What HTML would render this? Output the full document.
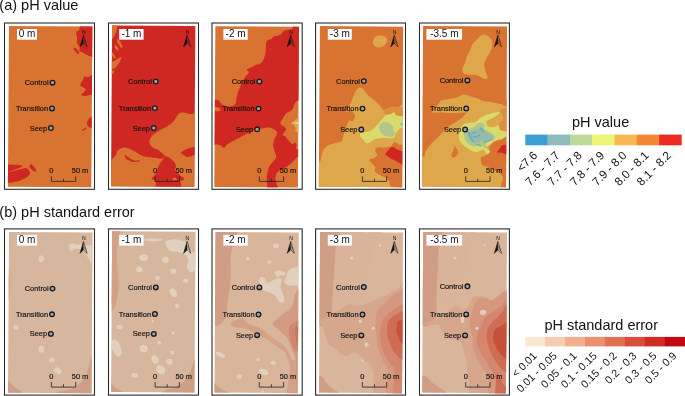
<!DOCTYPE html>
<html lang="en"><head><meta charset="utf-8"><title>pH value and pH standard error</title>
<style>
html,body{margin:0;padding:0;background:#fff;}
body{width:685px;height:396px;overflow:hidden;}
svg{display:block;}
text{font-family:"Liberation Sans",sans-serif;fill:#111;}
.t{font-size:14.5px;}
.d{font-size:10px;}
.l{font-size:7.4px;stroke:#111;stroke-width:0.15px;}
.n{font-size:5.1px;}
.g{font-size:10.6px;}
</style></head><body>
<svg width="685" height="396" viewBox="0 0 685 396">
<defs>
<g id="pt"><circle r="2.3" fill="#9ea4ae" stroke="#1a1a1a" stroke-width="1.35"/></g>
<g id="north"><path d="M0,0 L3.7,11.9 L0,8.4 L-3.5,11.9 Z" fill="none" stroke="#111" stroke-width="0.55" stroke-linejoin="miter"/><path d="M0,0 L-3.5,11.9 L0,8.4 Z" fill="#111"/><path d="M1.2,5.5 L2.2,9 M0.6,4 L0.9,8.2" stroke="#111" stroke-width="0.3" fill="none"/></g>
<clipPath id="c00"><path d="M7.90,186.70L91.30,187.25L92.36,26.56L8.97,26.00Z"/></clipPath>
<clipPath id="c01"><path d="M111.00,186.20L194.30,186.75L195.36,26.06L112.07,25.50Z"/></clipPath>
<clipPath id="c02"><path d="M214.30,187.00L297.90,187.55L298.96,26.86L215.37,26.30Z"/></clipPath>
<clipPath id="c03"><path d="M318.80,186.80L402.10,187.35L403.16,26.66L319.87,26.10Z"/></clipPath>
<clipPath id="c04"><path d="M422.00,186.60L506.00,187.16L507.06,26.46L423.07,25.90Z"/></clipPath>
<clipPath id="c10"><path d="M8.00,392.70L91.50,393.25L92.56,232.56L9.07,232.00Z"/></clipPath>
<clipPath id="c11"><path d="M111.10,392.00L194.45,392.55L195.51,231.86L112.17,231.30Z"/></clipPath>
<clipPath id="c12"><path d="M214.45,392.60L297.70,393.15L298.76,232.46L215.52,231.90Z"/></clipPath>
<clipPath id="c13"><path d="M319.05,392.60L401.95,393.15L403.01,232.45L320.12,231.90Z"/></clipPath>
<clipPath id="c14"><path d="M422.15,392.60L505.90,393.16L506.96,232.46L423.22,231.90Z"/></clipPath>
</defs>
<rect width="685" height="396" fill="#fff"/>
<text x="-0.7" y="10.2" class="t">(a) pH value</text>
<text x="-0.7" y="217.0" class="t">(b) pH standard error</text>
<g clip-path="url(#c00)">
<rect x="5.9" y="23.0" width="89.4" height="166.7" fill="#D87331"/>
<path d="M80.1,24.5C80.0,25.5 80.1,26.6 79.8,27.7C79.5,28.7 79.0,30.2 78.4,30.8C77.9,31.5 76.9,30.8 76.5,31.5C76.2,32.1 76.2,33.7 76.3,34.6C76.4,35.6 77.1,36.1 77.1,37.2C77.2,38.2 76.7,39.8 76.8,40.9C76.8,42.1 77.0,43.0 77.5,44.1C78.0,45.1 79.4,46.2 79.7,47.3C80.0,48.3 78.9,49.6 79.3,50.4C79.7,51.3 81.0,51.6 82.2,52.3C83.4,53.0 85.0,54.1 86.6,54.8C88.2,55.6 89.8,56.4 91.7,56.7C93.6,57.0 96.9,62.5 98.0,56.7C99.0,50.9 100.9,27.8 98.0,22.0C95.0,16.2 83.3,21.6 80.3,22.0C77.3,22.4 80.1,23.6 80.1,24.5Z" fill="#CF2823" />
<ellipse cx="76.52" cy="50.79" rx="3.79" ry="1.39" fill="#CF2823" transform="rotate(50 76.52 50.79)" />
<path d="M93.6,74.1L92.3,74.7L87.9,77.3L84.1,76.6L83.1,79.8L80.9,82.9L80.1,86.1L83.5,87.4L86.0,89.3L83.5,92.4L80.7,94.9L84.7,96.2L89.1,94.9L93.6,94.3Z" fill="#CF2823" />
<path d="M93.6,115.8C93.4,113.8 92.9,116.1 92.3,116.4C91.7,116.7 90.6,116.9 89.8,117.7C89.0,118.4 88.1,119.8 87.6,120.8C87.1,121.9 86.7,123.0 86.9,124.0C87.0,124.9 87.6,125.8 88.5,126.5C89.4,127.3 91.5,128.1 92.3,128.4C93.1,128.7 93.4,130.5 93.6,128.4C93.8,126.3 93.8,117.8 93.6,115.8Z" fill="#CF2823" />
<path d="M81.9,129.8L86.0,127.8L86.4,129.0L82.3,131.1Z" fill="#CF2823" />
<path d="M6.9,165.3C7.9,164.1 10.6,164.8 12.6,164.7C14.6,164.7 17.2,164.8 18.9,165.0C20.7,165.2 23.0,165.6 23.0,166.1C23.0,166.6 20.5,167.4 18.9,168.0C17.4,168.7 15.9,169.4 13.9,170.1C11.9,170.7 8.1,172.6 6.9,171.8C5.8,171.0 6.0,166.4 6.9,165.3Z" fill="#CF2823" />
<path d="M6.9,173.3C8.1,171.5 11.7,171.6 13.9,170.9C16.1,170.3 18.3,169.8 20.2,169.3C22.1,168.8 23.9,168.0 25.3,168.0C26.6,168.1 27.6,168.8 28.4,169.7C29.2,170.5 30.2,171.9 30.1,173.1C29.9,174.2 29.0,175.6 27.8,176.6C26.6,177.7 24.6,178.6 22.7,179.4C20.8,180.2 19.0,181.0 16.4,181.4C13.8,181.9 8.5,183.5 6.9,182.2C5.4,180.8 5.8,175.2 6.9,173.3Z" fill="#CF2823" />
<path d="M29.3,165.9C29.3,165.0 30.9,164.2 31.6,164.2C32.2,164.2 32.4,165.2 33.1,165.9C33.7,166.6 34.8,167.6 35.4,168.4C35.9,169.3 36.6,170.5 36.4,170.9C36.2,171.4 34.9,171.6 34.1,171.3C33.2,171.0 32.1,170.2 31.3,169.3C30.5,168.4 29.3,166.7 29.3,165.9Z" fill="#CF2823" />
</g>
<rect x="4.5" y="23.0" width="90.0" height="166.3" fill="none" stroke="#2b2b2b" stroke-width="1.1"/>
<rect x="17.0" y="29.0" width="20.0" height="10.7" fill="#fff"/>
<text x="27.0" y="37.4" class="d" text-anchor="middle">0 m</text>
<use href="#pt" x="52.5" y="82.7"/>
<text x="48.6" y="85.2" class="l" text-anchor="end">Control</text>
<use href="#pt" x="52.0" y="108.4"/>
<text x="48.1" y="110.9" class="l" text-anchor="end">Transition</text>
<use href="#pt" x="50.9" y="128.0"/>
<text x="47.0" y="130.5" class="l" text-anchor="end">Seep</text>
<text x="83.8" y="33.9" class="n" text-anchor="middle">N</text>
<use href="#north" x="83.5" y="34.9"/>
<path d="M51.4,176.3V181.4H75.7V176.3M63.5,178.6V181.4" fill="none" stroke="#222" stroke-width="0.8"/>
<text x="51.4" y="173.0" class="l" text-anchor="middle">0</text>
<text x="71.8" y="173.0" class="l">50 m</text>
<g clip-path="url(#c01)">
<rect x="109.0" y="22.5" width="89.3" height="166.7" fill="#CF2823"/>
<path d="M110.5,25.0L117.5,25.0L116.6,30.3L115.1,34.1L113.6,37.2L112.4,39.0L110.5,39.0Z" fill="#D87331" />
<path d="M117.4,38.7L120.4,41.7L122.7,46.2L121.2,48.5L118.9,44.7L116.9,41.7Z" fill="#D87331" />
<path d="M115.1,44.7L118.1,47.8L118.9,50.8L116.6,50.0L114.8,47.8Z" fill="#D87331" />
<path d="M110.5,52.0L112.4,52.3L114.3,54.6L115.8,57.6L114.3,58.4L112.4,56.1L110.5,56.1Z" fill="#D87331" />
<path d="M110.5,61.7L112.8,61.4L115.8,59.9L119.6,57.6L121.9,57.2L120.4,60.6L118.1,64.4L115.8,67.5L113.6,69.0L110.5,67.8Z" fill="#D87331" />
<path d="M110.5,70.5L114.3,70.8L113.6,73.5L110.5,74.4Z" fill="#D87331" />
<path d="M200.0,113.6C199.3,100.9 197.6,113.5 196.0,113.6C194.4,113.7 192.5,114.3 190.4,114.1C188.3,113.9 185.4,112.6 183.5,112.5C181.6,112.4 180.3,112.6 179.0,113.6C177.7,114.5 176.7,116.7 175.6,118.2C174.5,119.7 173.9,121.2 172.2,122.7C170.5,124.2 167.9,125.8 165.4,127.3C162.9,128.8 159.7,130.3 157.4,131.8C155.1,133.3 153.0,134.9 151.7,136.4C150.4,137.9 149.7,139.4 149.5,140.9C149.3,142.4 149.7,144.2 150.6,145.5C151.5,146.8 153.9,148.2 155.1,148.9C156.3,149.6 156.8,148.9 158.0,149.7C159.2,150.5 161.4,152.4 162.5,153.5C163.6,154.6 165.1,155.6 164.8,156.5C164.6,157.4 162.4,158.6 161.0,158.8C159.6,159.1 158.3,158.2 156.5,158.0C154.7,157.8 152.4,157.6 150.4,157.3C148.4,157.1 146.0,156.9 144.4,156.5C142.8,156.1 141.9,155.6 140.6,155.0C139.3,154.4 138.1,153.4 136.8,152.7C135.5,151.9 134.4,151.2 133.0,150.5C131.6,149.8 130.0,148.7 128.5,148.2C127.0,147.7 125.3,147.3 123.9,147.4C122.5,147.5 121.2,148.3 120.1,148.9C119.0,149.5 117.7,150.3 117.1,151.2C116.5,152.1 116.8,153.2 116.3,154.2C115.8,155.2 114.9,156.3 114.1,157.3C113.3,158.3 112.6,159.5 111.3,160.3C110.0,161.1 106.9,157.1 106.0,162.0C105.1,166.9 90.3,185.3 106.0,190.0C121.7,194.7 184.3,202.7 200.0,190.0C215.7,177.3 200.7,126.3 200.0,113.6Z" fill="#D87331" />
<path d="M164.8,156.5C165.8,156.0 167.5,156.8 168.6,157.3C169.7,157.8 170.6,158.6 171.6,159.5C172.6,160.4 174.0,161.3 174.7,162.6C175.4,163.8 176.0,165.8 176.0,167.0C176.0,168.2 174.6,169.1 174.9,170.1C175.2,171.1 177.0,172.2 178.0,173.2C179.0,174.2 180.1,175.3 181.1,176.2C182.1,177.0 183.8,177.6 184.1,178.3C184.4,179.0 183.8,179.8 183.1,180.3C182.4,180.8 180.4,180.6 180.1,181.3C179.8,182.0 181.3,183.0 181.1,184.4C180.9,185.8 183.0,189.1 179.0,190.0C175.0,190.9 160.9,191.2 157.1,190.0C153.3,188.8 156.4,184.5 156.0,182.9C155.6,181.3 155.2,181.0 154.5,180.3C153.8,179.6 151.6,179.5 151.5,178.8C151.4,178.1 153.3,177.0 154.0,176.2C154.7,175.3 155.0,174.7 155.5,173.7C156.0,172.7 156.6,171.4 157.1,170.1C157.6,168.8 158.1,167.2 158.6,166.0C159.1,164.8 159.7,163.9 160.3,163.0C161.0,162.1 161.8,161.4 162.5,160.3C163.2,159.2 163.8,157.0 164.8,156.5Z" fill="#CF2823" />
<path d="M172.4,178.3L176.0,177.7L177.0,179.8L173.4,180.3Z" fill="#D87331" />
<path d="M199.0,146.5C198.2,145.2 196.1,146.7 194.4,147.0C192.8,147.3 190.9,147.6 189.1,148.2C187.3,148.8 185.2,149.8 183.8,150.5C182.5,151.2 181.0,151.9 181.0,152.7C181.0,153.4 182.8,154.3 183.8,155.0C184.8,155.7 185.7,156.8 186.8,157.0C187.9,157.2 189.3,156.8 190.6,156.5C191.9,156.2 193.0,155.3 194.4,155.0C195.8,154.7 198.2,155.9 199.0,154.5C199.8,153.1 199.8,147.8 199.0,146.5Z" fill="#CF2823" />
<path d="M123.9,155.0L126.9,156.1L130.7,159.1L135.3,160.8L140.6,160.0L138.3,161.8L132.2,162.1L126.2,159.1Z" fill="#CF2823" />
</g>
<rect x="108.5" y="23.0" width="90.0" height="166.3" fill="none" stroke="#2b2b2b" stroke-width="1.1"/>
<rect x="119.2" y="29.0" width="24.4" height="10.7" fill="#fff"/>
<text x="131.4" y="37.4" class="d" text-anchor="middle">-1 m</text>
<use href="#pt" x="155.8" y="81.5"/>
<text x="151.9" y="84.0" class="l" text-anchor="end">Control</text>
<use href="#pt" x="154.9" y="108.1"/>
<text x="151.0" y="110.6" class="l" text-anchor="end">Transition</text>
<use href="#pt" x="153.8" y="128.0"/>
<text x="149.9" y="130.5" class="l" text-anchor="end">Seep</text>
<text x="187.4" y="33.9" class="n" text-anchor="middle">N</text>
<use href="#north" x="187.1" y="34.9"/>
<path d="M155.1,176.3V181.4H179.4V176.3M167.2,178.6V181.4" fill="none" stroke="#222" stroke-width="0.8"/>
<text x="155.1" y="173.0" class="l" text-anchor="middle">0</text>
<text x="175.5" y="173.0" class="l">50 m</text>
<g clip-path="url(#c02)">
<rect x="212.3" y="23.3" width="89.6" height="166.7" fill="#D87331"/>
<path d="M294.5,22.0C292.4,23.0 293.3,26.6 292.6,27.8C291.9,29.1 291.2,29.1 290.1,29.5C289.1,29.9 287.5,29.8 286.3,30.1C285.1,30.4 283.9,30.8 283.1,31.4C282.3,32.0 282.2,33.2 281.3,33.9C280.4,34.6 278.8,35.4 277.5,35.8C276.2,36.2 274.8,35.9 273.7,36.4C272.6,36.9 272.2,38.3 271.2,38.9C270.1,39.5 268.2,39.5 267.4,40.2C266.5,41.0 266.4,42.1 266.1,43.4C265.8,44.7 265.9,46.2 265.8,47.8C265.7,49.4 265.8,51.1 265.5,52.8C265.2,54.5 264.7,56.4 264.2,57.9C263.7,59.4 263.1,60.7 262.3,61.7C261.5,62.8 260.2,63.7 259.2,64.2C258.1,64.7 257.3,64.2 256.0,64.8C254.7,65.3 252.8,66.7 251.2,67.5C249.6,68.3 247.0,68.9 246.6,69.7C246.2,70.5 249.1,71.4 248.9,72.5C248.7,73.6 246.6,74.9 245.5,76.5C244.4,78.1 243.0,80.3 242.1,82.2C241.2,84.1 240.6,86.0 239.8,87.9C239.0,89.8 238.1,91.7 237.5,93.6C236.9,95.5 236.8,97.6 236.4,99.3C236.0,101.0 236.2,102.6 235.3,103.8C234.4,105.0 232.6,106.2 230.7,106.5C228.8,106.8 225.8,106.4 223.9,105.6C222.0,104.8 220.7,102.4 219.4,101.5C218.1,100.6 217.6,100.7 216.0,100.4C214.4,100.2 211.0,92.7 210.0,100.0C209.0,107.3 209.0,136.6 210.0,144.0C211.0,151.4 214.2,144.1 216.0,144.3C217.8,144.6 219.2,144.9 220.5,145.5C221.8,146.1 222.8,147.9 223.9,147.7C225.0,147.5 225.8,145.4 227.3,144.3C228.8,143.2 230.9,142.0 233.0,140.9C235.1,139.8 237.5,138.6 239.8,137.5C242.1,136.4 244.3,135.2 246.6,134.1C248.9,133.0 251.0,131.6 253.5,130.7C256.0,129.8 258.8,128.9 261.4,128.4C264.0,127.9 266.8,127.4 268.9,127.6C271.0,127.8 272.6,128.8 274.0,129.5C275.4,130.2 276.7,131.1 277.1,132.0C277.5,132.9 276.8,133.9 276.5,135.1C276.2,136.2 275.7,137.6 275.3,138.9C274.9,140.2 274.3,141.5 274.0,142.7C273.7,143.9 272.4,144.8 273.4,146.0C274.4,147.2 276.8,150.0 280.0,150.0C283.2,150.0 291.2,147.2 292.9,146.0C294.6,144.8 291.2,143.7 290.4,142.7C289.6,141.7 288.7,141.0 287.9,140.2C287.1,139.4 286.2,138.5 285.4,137.7C284.5,136.8 283.0,135.9 282.8,135.1C282.6,134.2 283.6,133.5 284.1,132.6C284.6,131.7 285.9,130.4 286.0,129.5C286.1,128.6 285.4,127.7 284.7,126.9C284.0,126.2 282.3,125.7 281.6,125.0C280.9,124.3 280.2,123.4 280.3,122.5C280.4,121.6 281.6,120.5 282.2,119.4C282.8,118.4 283.4,117.3 284.1,116.2C284.8,115.1 285.6,113.8 286.6,113.0C287.7,112.2 289.3,111.9 290.4,111.2C291.4,110.5 292.3,109.7 292.9,108.6C293.5,107.5 293.7,105.9 294.2,104.8C294.7,103.7 295.4,102.4 296.1,101.7C296.8,101.0 297.1,100.7 298.6,100.4C300.1,100.1 303.9,113.1 305.0,100.0C306.1,86.9 306.8,35.0 305.0,22.0C303.2,9.0 296.6,21.0 294.5,22.0Z" fill="#CF2823" />
<path d="M276.9,136.0C275.1,136.7 274.6,138.5 274.0,140.2C273.4,141.8 273.2,144.0 273.3,145.9C273.4,147.8 274.3,149.7 274.8,151.6C275.3,153.5 276.4,155.5 276.2,157.2C275.9,158.8 274.4,160.1 273.3,161.5C272.2,162.9 270.7,164.0 269.8,165.7C268.9,167.3 268.2,169.5 267.7,171.4C267.2,173.3 266.8,175.1 266.7,177.0C266.6,178.9 266.7,180.7 267.0,182.7C267.3,184.7 266.6,187.9 268.4,189.0C270.2,190.1 276.3,190.1 277.6,189.0C278.9,187.9 276.6,184.5 276.2,182.7C275.8,180.9 275.5,179.8 275.5,178.4C275.5,177.0 275.7,175.4 276.2,174.2C276.7,173.0 277.4,172.2 278.3,171.4C279.2,170.6 280.4,170.0 281.8,169.2C283.2,168.4 285.3,167.3 286.8,166.4C288.3,165.5 289.7,164.7 291.0,163.6C292.3,162.5 293.5,161.1 294.6,160.0C295.7,158.9 296.2,157.9 297.4,157.2C298.6,156.5 301.2,157.0 302.0,155.8C302.8,154.6 303.0,151.3 302.0,150.1C301.0,148.9 296.9,149.6 296.0,148.7C295.1,147.8 296.9,145.6 296.7,144.5C296.5,143.4 295.3,142.4 294.6,142.4C293.9,142.4 293.1,144.5 292.4,144.5C291.7,144.5 291.2,143.3 290.3,142.4C289.4,141.5 288.0,139.9 287.1,138.8C286.2,137.7 286.4,136.5 284.7,136.0C283.0,135.5 278.7,135.3 276.9,136.0Z" fill="#CF2823" />
<path d="M302.0,116.0L296.0,119.0L293.0,122.0L290.5,123.2L294.0,125.0L296.0,128.0L295.0,131.0L302.0,134.0Z" fill="#DFA74C" />
<path d="M291.7,122.8L302.0,121.3L302.0,125.2Z" fill="#E8D77A" />
<path d="M215.0,107.0L219.0,107.5L221.0,110.0L218.0,111.5L215.0,111.0Z" fill="#D87331" />
<path d="M215.0,99.5L220.0,101.0L218.0,104.0L215.0,104.0Z" fill="#CF2823" />
</g>
<rect x="212.0" y="23.0" width="90.2" height="166.3" fill="none" stroke="#2b2b2b" stroke-width="1.1"/>
<rect x="223.4" y="29.0" width="24.3" height="10.7" fill="#fff"/>
<text x="235.6" y="37.4" class="d" text-anchor="middle">-2 m</text>
<use href="#pt" x="259.4" y="81.5"/>
<text x="255.5" y="84.0" class="l" text-anchor="end">Control</text>
<use href="#pt" x="258.5" y="108.6"/>
<text x="254.6" y="111.1" class="l" text-anchor="end">Transition</text>
<use href="#pt" x="257.1" y="129.3"/>
<text x="253.2" y="131.8" class="l" text-anchor="end">Seep</text>
<text x="291.0" y="33.9" class="n" text-anchor="middle">N</text>
<use href="#north" x="290.7" y="34.9"/>
<path d="M259.3,176.3V181.4H283.6V176.3M271.4,178.6V181.4" fill="none" stroke="#222" stroke-width="0.8"/>
<text x="259.3" y="173.0" class="l" text-anchor="middle">0</text>
<text x="279.7" y="173.0" class="l">50 m</text>
<g clip-path="url(#c03)">
<rect x="316.8" y="23.1" width="89.3" height="166.7" fill="#D87331"/>
<path d="M372.9,41.3C373.2,39.9 374.2,37.7 375.6,36.8C377.0,35.8 379.6,35.5 381.3,35.6C383.0,35.8 384.9,36.5 385.9,37.5C386.8,38.4 387.4,39.9 387.0,41.3C386.6,42.7 385.1,44.8 383.6,45.9C382.1,46.9 379.5,47.6 377.9,47.5C376.3,47.3 374.7,46.2 373.8,45.2C373.0,44.2 372.6,42.7 372.9,41.3Z" fill="#DFA74C" />
<path d="M359.7,87.5C360.8,87.3 362.0,88.0 363.1,89.0C364.2,90.0 365.5,92.4 366.5,93.6C367.5,94.8 367.4,94.8 368.9,96.0C370.4,97.2 373.4,99.4 375.3,101.1C377.2,102.8 378.9,104.6 380.3,106.1C381.7,107.6 382.2,109.5 383.5,109.9C384.8,110.3 386.3,109.1 387.9,108.6C389.5,108.1 391.2,106.9 392.9,106.7C394.6,106.5 395.1,107.2 398.0,107.4C400.9,107.6 408.0,93.4 410.0,108.0C412.0,122.6 426.3,180.5 410.0,195.0C393.7,209.5 328.3,200.6 312.0,195.0C295.7,189.4 310.7,167.0 312.0,161.4C313.3,155.8 318.5,162.2 320.0,161.4C321.5,160.6 320.5,158.7 321.1,156.8C321.7,154.9 322.3,151.9 323.4,150.0C324.5,148.1 326.0,146.6 327.9,145.5C329.8,144.4 332.4,144.0 334.7,143.2C337.0,142.4 340.0,142.4 341.5,140.9C343.0,139.4 343.0,136.4 343.8,134.1C344.6,131.8 345.2,129.6 346.1,127.3C347.1,125.0 348.6,121.5 349.5,120.5C350.4,119.5 350.6,121.5 351.3,121.3C352.0,121.1 353.2,120.2 353.8,119.4C354.4,118.6 355.2,117.4 355.1,116.2C355.0,115.0 354.1,113.4 353.2,112.4C352.3,111.4 351.2,110.1 350.0,110.0C348.8,109.9 346.2,112.8 346.1,112.0C346.0,111.2 348.6,106.9 349.5,105.0C350.4,103.1 351.1,102.1 351.8,100.4C352.6,98.7 353.2,96.4 354.0,94.7C354.8,93.0 355.4,91.4 356.3,90.2C357.2,89.0 358.6,87.7 359.7,87.5Z" fill="#DFA74C" />
<path d="M383.5,109.9L387.9,108.6L392.9,106.7L398.0,107.4L406.0,108.0L406.0,117.0L400.5,116.2L395.5,114.9L394.2,111.8L391.7,113.7L386.6,114.9L384.0,113.0Z" fill="#DE8F3B" />
<path d="M360.1,133.9C360.6,133.1 362.2,133.1 363.9,132.6C365.6,132.1 368.3,131.7 370.2,130.7C372.1,129.8 373.7,128.4 375.3,126.9C376.8,125.5 378.3,123.5 379.7,121.9C381.0,120.3 382.3,118.6 383.5,117.5C384.6,116.3 385.2,115.6 386.6,114.9C388.0,114.3 390.4,114.2 391.7,113.7C392.9,113.2 393.6,111.6 394.2,111.8C394.8,112.0 394.4,114.2 395.5,114.9C396.5,115.7 398.6,115.9 400.5,116.2C402.4,116.5 405.8,114.9 406.8,116.8C407.9,118.7 407.9,125.7 406.8,127.6C405.8,129.5 402.0,127.7 400.5,128.2C399.0,128.7 398.8,129.8 398.0,130.7C397.1,131.7 396.1,132.7 395.5,133.9C394.8,135.0 395.2,136.9 394.2,137.7C393.1,138.4 390.8,138.3 389.1,138.3C387.5,138.3 385.8,137.7 384.1,137.7C382.4,137.7 380.7,138.0 379.0,138.3C377.4,138.6 375.5,138.9 374.0,139.6C372.5,140.2 371.5,141.5 370.2,142.1C368.9,142.7 367.5,143.7 366.4,143.3C365.4,143.0 364.8,141.2 363.9,140.2C362.9,139.1 361.4,138.1 360.7,137.0C360.1,136.0 359.6,134.6 360.1,133.9Z" fill="#D8DB6C" />
<path d="M379.0,127.6C379.3,126.4 380.0,124.7 380.9,123.8C381.9,122.8 383.4,122.0 384.7,121.9C386.1,121.8 387.9,122.5 389.1,123.1C390.4,123.8 391.6,124.9 392.3,125.7C393.0,126.4 393.5,126.8 393.6,127.6C393.7,128.3 392.7,129.4 392.9,130.1C393.1,130.8 394.7,131.0 394.8,132.0C394.9,132.9 394.3,134.9 393.6,135.8C392.8,136.6 391.7,137.0 390.4,137.0C389.1,137.1 387.4,136.7 386.0,136.2C384.6,135.6 383.2,134.8 382.2,133.9C381.1,133.0 380.2,131.8 379.7,130.7C379.1,129.7 378.8,128.7 379.0,127.6Z" fill="#B0C68B" />
<path d="M399.9,123.1L404.3,122.5L404.3,125.7L400.5,125.7Z" fill="#93BDAA" />
<path d="M393.6,142.5C392.9,143.1 392.6,144.9 391.7,145.7C390.7,146.4 389.1,146.6 387.9,146.9C386.6,147.3 385.5,147.5 384.1,147.6C382.7,147.6 381.0,147.2 379.7,147.3C378.3,147.4 376.6,147.5 375.9,148.2C375.1,148.9 375.0,150.3 375.3,151.4C375.5,152.4 377.3,153.5 377.1,154.5C377.0,155.6 375.9,156.8 374.6,157.7C373.4,158.5 370.0,158.6 369.6,159.6C369.1,160.5 371.1,162.1 372.1,163.4C373.0,164.6 374.8,166.0 375.3,167.1C375.7,168.3 374.3,169.3 374.6,170.3C374.9,171.4 376.0,172.5 377.1,173.5C378.3,174.4 380.1,175.2 381.6,176.0C383.0,176.7 384.7,176.9 386.0,177.9C387.2,178.8 388.5,180.4 389.1,181.7C389.8,182.9 389.1,184.6 389.8,185.5C390.4,186.3 389.9,186.5 392.9,186.7C396.0,187.0 405.6,194.3 408.1,187.0C410.6,179.6 409.3,149.5 408.1,142.5C406.8,135.5 402.2,144.8 400.5,145.1C398.8,145.3 398.8,144.2 398.0,143.8C397.1,143.4 396.2,142.7 395.5,142.5C394.7,142.3 394.2,142.0 393.6,142.5Z" fill="#D87331" />
<path d="M391.7,146.9C392.4,146.8 393.1,147.0 394.2,147.6C395.2,148.1 395.9,149.2 398.0,150.1C400.1,151.0 405.3,150.7 406.8,153.3C408.3,155.8 407.6,163.4 406.8,165.3C406.1,167.1 403.7,165.0 402.4,164.6C401.1,164.2 400.4,163.4 399.2,162.7C398.1,162.1 396.7,161.5 395.5,160.8C394.2,160.2 392.9,159.7 391.7,158.9C390.4,158.2 388.9,157.2 387.9,156.4C386.8,155.7 385.5,155.4 385.4,154.5C385.2,153.7 386.5,152.4 387.2,151.4C388.0,150.3 389.0,148.9 389.8,148.2C390.5,147.5 390.9,147.0 391.7,146.9Z" fill="#CF2823" />
</g>
<rect x="315.6" y="23.0" width="89.9" height="166.3" fill="none" stroke="#2b2b2b" stroke-width="1.1"/>
<rect x="327.8" y="29.0" width="24.0" height="10.7" fill="#fff"/>
<text x="339.8" y="37.4" class="d" text-anchor="middle">-3 m</text>
<use href="#pt" x="363.8" y="81.1"/>
<text x="359.9" y="83.6" class="l" text-anchor="end">Control</text>
<use href="#pt" x="362.5" y="108.6"/>
<text x="358.6" y="111.1" class="l" text-anchor="end">Transition</text>
<use href="#pt" x="361.3" y="129.5"/>
<text x="357.4" y="132.0" class="l" text-anchor="end">Seep</text>
<text x="394.6" y="33.9" class="n" text-anchor="middle">N</text>
<use href="#north" x="394.3" y="34.9"/>
<path d="M362.4,176.3V181.4H386.7V176.3M374.5,178.6V181.4" fill="none" stroke="#222" stroke-width="0.8"/>
<text x="362.4" y="173.0" class="l" text-anchor="middle">0</text>
<text x="382.8" y="173.0" class="l">50 m</text>
<g clip-path="url(#c04)">
<rect x="420.0" y="22.9" width="90.0" height="166.7" fill="#D87331"/>
<path d="M484.2,34.5C485.5,34.7 487.4,35.6 488.7,36.8C490.1,37.9 491.6,39.6 492.1,41.3C492.7,43.0 492.5,45.1 492.1,47.0C491.8,48.9 490.8,50.8 489.9,52.7C488.9,54.6 487.4,56.5 486.5,58.4C485.5,60.3 484.4,62.0 484.2,64.0C484.0,66.1 484.8,68.6 485.3,70.9C485.9,73.1 487.8,76.4 487.6,77.7C487.4,79.0 485.9,79.2 484.2,78.8C482.5,78.4 479.8,76.1 477.4,75.4C474.9,74.7 471.7,75.0 469.4,74.7C467.1,74.5 464.9,74.8 463.7,73.8C462.6,72.8 462.4,70.4 462.6,68.6C462.8,66.8 464.1,65.0 464.9,62.9C465.6,60.8 466.2,58.4 467.1,56.1C468.1,53.8 469.6,51.4 470.5,49.3C471.5,47.2 471.7,45.3 472.8,43.6C474.0,41.9 476.0,40.4 477.4,39.0C478.7,37.7 479.6,36.4 480.8,35.6C481.9,34.9 482.9,34.3 484.2,34.5Z" fill="#DFA74C" />
<path d="M431.9,112.0C432.5,111.3 434.2,109.7 435.3,108.4C436.5,107.0 437.8,105.1 438.7,103.8C439.7,102.5 439.5,101.2 441.0,100.4C442.5,99.7 445.5,99.7 447.8,99.3C450.1,98.9 452.6,98.7 454.6,98.1C456.7,97.6 458.8,96.5 460.3,95.9C461.8,95.2 462.2,94.3 463.7,94.3C465.2,94.3 467.3,95.2 469.4,95.9C471.5,96.5 474.1,97.4 476.2,98.1C478.3,98.9 480.2,99.8 481.9,100.4C483.6,101.0 484.9,101.3 486.5,101.5C488.0,101.8 489.1,101.7 491.0,102.0C492.9,102.3 495.7,103.0 497.8,103.4C499.9,103.7 502.0,104.4 503.5,104.3C505.0,104.2 504.8,103.1 506.9,102.7C509.0,102.3 514.5,86.6 516.0,102.0C517.5,117.4 532.7,179.5 516.0,195.0C499.3,210.5 432.7,201.4 416.0,195.0C399.3,188.6 414.7,163.2 416.0,156.8C417.3,150.4 422.5,157.6 424.0,156.8C425.5,156.1 424.2,154.2 425.1,152.3C426.0,150.4 427.9,147.6 429.6,145.5C431.3,143.4 433.4,141.7 435.3,139.8C437.2,137.9 438.9,136.2 441.0,134.1C443.1,132.0 445.5,129.2 447.8,127.3C450.1,125.4 452.3,124.2 454.6,122.7C456.9,121.2 459.6,119.7 461.5,118.2C463.4,116.7 465.2,114.5 466.0,113.6C466.8,112.6 468.7,112.6 466.0,112.5C463.3,112.4 455.7,113.0 450.0,113.0C444.3,113.0 434.9,112.8 431.9,112.6C428.9,112.4 431.3,112.7 431.9,112.0Z" fill="#DFA74C" />
<path d="M489.1,98.7C491.5,98.1 504.9,97.4 508.1,98.7C511.2,100.1 508.5,105.7 508.1,106.9C507.7,108.2 506.8,106.8 505.6,106.3C504.3,105.8 502.4,104.4 500.5,103.8C498.6,103.2 496.1,103.4 494.2,102.5C492.3,101.7 486.8,99.4 489.1,98.7Z" fill="#D87331" />
<path d="M500.5,110.1C501.6,109.3 506.8,105.6 508.1,108.8C509.3,112.1 509.3,126.1 508.1,129.7C506.8,133.2 502.2,130.6 500.5,130.3C498.8,130.0 498.1,129.0 498.0,127.8C497.9,126.5 499.0,124.2 499.9,122.7C500.7,121.3 502.7,120.4 503.0,118.9C503.3,117.5 502.2,115.4 501.8,113.9C501.3,112.4 499.5,110.9 500.5,110.1Z" fill="#DE8F3B" />
<path d="M458.8,131.6C459.3,130.4 460.3,128.4 461.4,127.1C462.4,125.9 463.7,124.7 465.2,124.0C466.6,123.3 468.5,123.0 470.2,122.7C471.9,122.4 473.8,122.7 475.3,122.1C476.7,121.5 478.0,119.8 479.0,118.9C480.1,118.1 480.5,117.7 481.6,117.0C482.6,116.4 483.7,115.8 485.4,115.2C487.0,114.5 489.6,113.8 491.7,113.3C493.8,112.7 496.6,112.1 498.0,112.0C499.3,111.9 500.0,112.1 499.9,112.6C499.8,113.2 498.5,114.3 497.3,115.2C496.2,116.0 494.3,116.9 492.9,117.7C491.6,118.4 490.2,118.8 489.1,119.6C488.1,120.3 486.9,121.0 486.6,122.1C486.3,123.1 486.6,125.0 487.2,125.9C487.9,126.7 489.0,127.0 490.4,127.1C491.8,127.3 494.1,126.8 495.5,126.5C496.8,126.2 497.8,124.6 498.6,125.3C499.5,125.9 499.3,129.3 500.5,130.3C501.7,131.4 504.3,130.3 505.6,131.6C506.8,132.8 508.9,136.6 508.1,137.9C507.2,139.1 502.5,138.7 500.5,139.1C498.5,139.6 497.1,140.1 496.1,140.4C495.0,140.8 494.9,140.8 494.2,141.3C493.5,141.7 492.7,142.4 491.7,143.2C490.6,143.9 488.7,144.8 487.9,145.7C487.0,146.5 486.3,147.4 486.6,148.2C486.9,149.0 489.1,149.8 489.8,150.7C490.4,151.7 490.7,153.3 490.4,153.9C490.1,154.5 488.7,154.8 487.9,154.5C487.0,154.2 486.1,152.8 485.4,152.0C484.6,151.2 484.3,149.7 483.5,149.5C482.6,149.3 481.5,150.3 480.3,150.7C479.1,151.2 478.0,152.0 476.5,152.0C475.0,152.0 473.1,151.5 471.5,150.7C469.8,150.0 468.0,148.7 466.4,147.6C464.8,146.4 463.2,145.1 462.0,143.8C460.8,142.5 460.0,141.2 459.5,140.0C458.9,138.8 459.0,137.6 458.8,136.6C458.7,135.6 458.6,134.9 458.6,134.1C458.6,133.2 458.4,132.7 458.8,131.6Z" fill="#D8DB6C" />
<path d="M463.9,132.8C464.3,131.9 465.4,130.4 466.4,129.7C467.5,128.9 468.9,128.8 470.2,128.4C471.5,128.0 472.8,127.9 474.0,127.1C475.1,126.4 476.2,124.7 477.1,124.0C478.1,123.3 478.7,122.8 479.7,122.7C480.6,122.6 482.0,122.9 482.8,123.4C483.7,123.8 484.5,124.4 484.7,125.3C484.9,126.1 483.8,127.6 484.1,128.4C484.4,129.3 485.6,129.7 486.6,130.3C487.7,130.9 489.2,131.5 490.4,132.2C491.6,132.9 492.7,133.9 493.6,134.7C494.4,135.6 495.3,136.5 495.5,137.2C495.6,138.0 494.9,138.6 494.2,139.1C493.5,139.7 492.1,140.2 491.0,140.7C490.0,141.1 488.8,141.3 487.9,141.9C486.9,142.5 485.6,143.6 485.4,144.4C485.1,145.3 486.6,146.3 486.6,146.9C486.6,147.6 486.0,148.3 485.4,148.2C484.7,148.1 483.8,146.8 482.8,146.3C481.9,145.8 480.9,145.1 479.7,145.1C478.4,145.1 476.6,146.2 475.3,146.3C473.9,146.4 472.7,146.2 471.5,145.7C470.2,145.2 468.7,144.1 467.7,143.2C466.6,142.2 465.7,140.9 465.2,140.0C464.6,139.1 464.7,138.7 464.5,137.9C464.3,137.1 464.0,136.2 463.9,135.4C463.8,134.5 463.5,133.8 463.9,132.8Z" fill="#B0C68B" />
<path d="M467.7,133.5C468.2,132.6 469.6,131.5 470.8,130.9C472.1,130.4 473.9,130.7 475.3,130.3C476.6,129.9 478.0,128.9 479.0,128.4C480.1,127.9 480.8,127.0 481.6,127.1C482.3,127.3 482.7,128.3 483.5,129.0C484.2,129.8 484.9,130.7 486.0,131.6C487.0,132.4 488.5,133.2 489.8,134.1C491.0,134.9 493.2,135.8 493.6,136.6C493.9,137.5 492.6,138.4 491.7,139.1C490.7,139.9 489.1,140.5 487.9,141.0C486.6,141.6 485.1,142.5 484.1,142.3C483.0,142.1 482.4,140.1 481.6,140.0C480.7,139.9 480.1,141.4 479.0,141.9C478.0,142.4 476.6,143.2 475.3,143.2C473.9,143.2 471.9,142.4 470.8,141.9C469.8,141.4 469.4,140.7 468.9,140.0C468.5,139.3 468.5,138.5 468.3,137.9C468.1,137.2 467.8,136.7 467.7,136.0C467.6,135.2 467.2,134.3 467.7,133.5Z" fill="#93BDAA" />
<path d="M469,134.2L473.4,141.8M472.2,133.5L475.3,132.2M473.4,137.3L479.7,135.4M480.3,128.4L484.1,131.6M484.1,142.3L492.3,139.2M477.2,144.2L481,146.1M467,131.5L470,134" fill="none" stroke="#62A4C4" stroke-width="1.1" stroke-linecap="round"/>
<path d="M492.3,143.2C493.4,142.1 494.1,141.8 495.5,141.3C496.8,140.7 498.2,140.2 500.5,140.0C502.8,139.8 507.9,132.0 509.3,140.0C510.8,148.0 510.8,180.0 509.3,188.0C507.9,196.0 501.9,188.4 500.5,188.0C499.1,187.6 500.9,186.5 501.1,185.5C501.3,184.4 501.5,182.9 501.8,181.7C502.1,180.4 503.2,179.1 503.0,177.9C502.8,176.6 501.6,175.1 500.5,174.1C499.5,173.0 498.2,172.3 496.7,171.6C495.2,170.8 493.1,170.4 491.7,169.7C490.2,168.9 489.4,167.9 487.9,167.1C486.4,166.4 484.0,166.2 482.8,165.3C481.7,164.3 481.1,162.8 480.9,161.5C480.7,160.1 480.6,158.1 481.6,157.0C482.5,156.0 485.2,156.0 486.6,155.2C488.0,154.3 489.4,153.3 489.8,152.0C490.2,150.7 488.7,149.0 489.1,147.6C489.6,146.1 491.2,144.2 492.3,143.2Z" fill="#D87331" />
<path d="M502.4,145.1C503.7,144.7 507.1,144.2 508.1,145.7C509.0,147.2 508.9,152.6 508.1,153.9C507.2,155.2 504.4,153.5 503.0,153.3C501.7,153.0 500.9,152.7 499.9,152.6C498.9,152.5 497.2,153.0 497.0,152.6C496.8,152.2 498.0,150.9 498.6,150.1C499.2,149.3 499.9,148.4 500.5,147.6C501.1,146.7 501.1,145.4 502.4,145.1Z" fill="#CF2823" />
<path d="M454.4,146.3C454.8,146.2 455.7,147.4 456.3,148.2C456.9,149.0 458.1,150.2 458.2,151.4C458.3,152.5 457.7,154.1 456.9,155.2C456.2,156.2 454.7,157.6 453.8,157.7C452.8,157.8 451.5,156.7 451.3,155.8C451.1,154.8 452.1,153.2 452.5,152.0C452.9,150.8 453.5,149.8 453.8,148.8C454.1,147.9 454.0,146.4 454.4,146.3Z" fill="#D87331" />
</g>
<rect x="419.5" y="23.0" width="89.9" height="166.3" fill="none" stroke="#2b2b2b" stroke-width="1.1"/>
<rect x="426.4" y="29.0" width="35.7" height="10.7" fill="#fff"/>
<text x="444.3" y="37.4" class="d" text-anchor="middle">-3.5 m</text>
<use href="#pt" x="467.4" y="80.4"/>
<text x="463.5" y="82.9" class="l" text-anchor="end">Control</text>
<use href="#pt" x="466.2" y="108.5"/>
<text x="462.3" y="111.0" class="l" text-anchor="end">Transition</text>
<use href="#pt" x="465.1" y="129.5"/>
<text x="461.2" y="132.0" class="l" text-anchor="end">Seep</text>
<text x="498.2" y="33.9" class="n" text-anchor="middle">N</text>
<use href="#north" x="497.9" y="34.9"/>
<path d="M465.7,176.3V181.4H490.0V176.3M477.8,178.6V181.4" fill="none" stroke="#222" stroke-width="0.8"/>
<text x="465.7" y="173.0" class="l" text-anchor="middle">0</text>
<text x="486.1" y="173.0" class="l">50 m</text>
<g clip-path="url(#c10)">
<rect x="6.0" y="229.0" width="89.5" height="166.7" fill="#D6B69C"/>
<path d="M69.1,245.2C69.7,244.4 71.2,243.7 72.5,243.6C73.9,243.6 75.6,244.7 77.1,244.8C78.5,244.8 80.2,244.0 81.3,244.0C82.3,244.1 81.6,245.0 83.2,245.2C84.7,245.3 89.0,245.0 90.7,245.2C92.5,245.3 93.3,242.4 93.8,245.9C94.3,249.4 94.0,263.1 93.8,266.4C93.5,269.6 92.7,266.4 92.2,265.6C91.7,264.8 91.4,263.0 90.7,261.8C90.1,260.7 89.1,259.9 88.5,258.8C87.8,257.7 87.1,256.1 86.6,255.0C86.1,253.9 86.4,252.9 85.4,252.0C84.5,251.1 82.5,250.2 80.9,249.7C79.2,249.2 77.2,248.7 75.6,248.9C73.9,249.2 72.1,251.3 71.0,251.2C70.0,251.1 69.5,249.2 69.1,248.2C68.8,247.2 68.6,245.9 69.1,245.2Z" fill="#E1D0BD" />
<path d="M38.6,257.5C39.1,256.5 41.1,255.1 42.0,255.3C43.0,255.5 44.3,257.5 44.3,258.7C44.3,259.8 42.9,261.6 42.0,262.1C41.2,262.6 39.7,262.4 39.1,261.6C38.5,260.9 38.1,258.6 38.6,257.5Z" fill="#E1D0BD" />
<path d="M6.8,232.5L9.1,232.5L10.9,241.6L9.5,250.7L6.8,250.7Z" fill="#D8AE95" />
<path d="M6.8,268.9L9.5,270.0L11.4,273.5L11.8,282.5L10.2,293.9L9.1,300.7L6.8,300.7Z" fill="#D8AE95" />
<path d="M6.8,276.9L9.5,277.5L9.8,287.1L6.8,287.5Z" fill="#D6A88E" />
<path d="M4.0,380.2L8.0,380.2L15.2,387.8L20.0,390.2L22.4,392.6L22.4,396.0L4.0,396.0Z" fill="#CF9F85" />
<path d="M95.5,354.9C94.9,347.9 93.0,353.5 92.0,354.9C91.1,356.2 90.5,360.0 89.8,362.8C89.0,365.7 88.4,369.3 87.5,371.9C86.6,374.6 85.8,376.5 84.1,378.7C82.4,381.0 79.9,383.7 77.3,385.5C74.6,387.4 71.6,389.0 68.2,390.1C64.8,391.2 58.7,391.2 56.8,392.4C54.9,393.5 50.4,396.2 56.8,396.9C63.3,397.7 89.0,403.9 95.5,396.9C101.9,389.9 96.0,361.9 95.5,354.9Z" fill="#CF9F85" />
<ellipse cx="15.91" cy="327.59" rx="2.73" ry="2.27" fill="#E1D0BD" transform="rotate(30 15.91 327.59)" />
<ellipse cx="41.36" cy="349.18" rx="2.95" ry="3.41" fill="#E1D0BD" transform="rotate(0 41.36 349.18)" />
<ellipse cx="51.82" cy="360.09" rx="2.95" ry="2.5" fill="#E1D0BD" transform="rotate(0 51.82 360.09)" />
<ellipse cx="57.95" cy="370.77" rx="4.09" ry="2.73" fill="#E1D0BD" transform="rotate(35 57.95 370.77)" />
</g>
<rect x="4.5" y="228.9" width="90.0" height="166.2" fill="none" stroke="#2b2b2b" stroke-width="1.1"/>
<rect x="17.0" y="234.9" width="20.0" height="10.7" fill="#fff"/>
<text x="27.0" y="243.3" class="d" text-anchor="middle">0 m</text>
<use href="#pt" x="52.5" y="288.6"/>
<text x="48.6" y="291.1" class="l" text-anchor="end">Control</text>
<use href="#pt" x="52.0" y="314.3"/>
<text x="48.1" y="316.8" class="l" text-anchor="end">Transition</text>
<use href="#pt" x="50.9" y="333.9"/>
<text x="47.0" y="336.4" class="l" text-anchor="end">Seep</text>
<text x="83.8" y="240.4" class="n" text-anchor="middle">N</text>
<use href="#north" x="83.5" y="241.4"/>
<path d="M51.4,382.0V387.1H75.7V382.0M63.5,384.3V387.1" fill="none" stroke="#222" stroke-width="0.8"/>
<text x="51.4" y="378.7" class="l" text-anchor="middle">0</text>
<text x="71.8" y="378.7" class="l">50 m</text>
<g clip-path="url(#c11)">
<rect x="109.1" y="228.3" width="89.3" height="166.7" fill="#D6B69C"/>
<path d="M108.5,230.3C110.5,216.8 118.8,228.4 120.4,230.3C122.0,232.2 118.7,237.5 118.1,241.6C117.5,245.8 116.8,250.7 116.7,255.3C116.7,259.8 117.3,264.4 117.6,268.9C118.0,273.5 118.8,278.0 118.8,282.5C118.8,287.1 118.2,292.4 117.6,296.2C117.1,300.0 116.2,302.8 115.4,305.3C114.5,307.7 113.5,310.0 112.4,311.0C111.3,311.9 109.2,324.4 108.5,311.0C107.9,297.5 106.6,243.7 108.5,230.3Z" fill="#D2A187" />
<path d="M108.5,230.3L114.9,230.3L114.5,241.6L114.0,262.1L114.5,284.8L113.1,303.0L108.5,305.3Z" fill="#D2A187" />
<path d="M165.4,241.6C166.3,240.5 169.5,239.6 172.2,239.4C174.8,239.2 178.6,239.7 181.3,240.5C183.9,241.3 186.6,242.2 188.1,243.9C189.6,245.6 189.0,249.2 190.4,250.7C191.7,252.2 194.5,252.6 196.0,253.0C197.6,253.4 198.9,250.3 199.5,253.0C200.0,255.7 200.0,266.3 199.5,268.9C198.9,271.6 197.4,268.3 196.0,268.9C194.7,269.5 193.0,272.5 191.5,272.3C190.0,272.1 187.5,269.9 187.0,267.8C186.4,265.7 188.5,262.1 188.1,259.8C187.7,257.5 186.6,255.5 184.7,254.1C182.8,252.8 179.2,252.4 176.7,251.9C174.3,251.3 171.6,251.7 169.9,250.7C168.2,249.8 167.3,247.7 166.5,246.2C165.7,244.7 164.4,242.8 165.4,241.6Z" fill="#E1D0BD" />
<path d="M199.5,356.0C198.9,349.2 197.2,354.5 196.0,356.0C194.9,357.5 193.8,362.1 192.6,365.1C191.5,368.1 190.7,371.3 189.2,374.2C187.7,377.0 186.0,379.9 183.5,382.1C181.1,384.4 177.9,386.3 174.5,387.8C171.0,389.3 165.0,389.7 163.1,391.2C161.2,392.7 157.0,396.0 163.1,396.9C169.2,397.9 193.4,403.7 199.5,396.9C205.5,390.1 200.0,362.8 199.5,356.0Z" fill="#CF9F85" />
<path d="M109.2,382.9L111.1,382.9L116.5,388.4L120.2,390.2L123.8,391.7L127.4,392.9L127.4,397.5L109.2,397.5Z" fill="#CF9F85" />
<ellipse cx="152.86" cy="239.82" rx="9.09" ry="1.59" fill="#E1D0BD" transform="rotate(0 152.86 239.82)" />
<ellipse cx="143.77" cy="257.55" rx="4.55" ry="3.41" fill="#E1D0BD" transform="rotate(0 143.77 257.55)" />
<ellipse cx="165.36" cy="259.82" rx="3.41" ry="3.18" fill="#E1D0BD" transform="rotate(0 165.36 259.82)" />
<ellipse cx="139.23" cy="269.36" rx="3.18" ry="2.95" fill="#E1D0BD" transform="rotate(0 139.23 269.36)" />
<ellipse cx="173.32" cy="271.18" rx="2.95" ry="2.73" fill="#E1D0BD" transform="rotate(0 173.32 271.18)" />
<ellipse cx="157.41" cy="278.0" rx="2.5" ry="2.27" fill="#E1D0BD" transform="rotate(0 157.41 278.0)" />
<ellipse cx="185.82" cy="280.73" rx="2.73" ry="2.05" fill="#E1D0BD" transform="rotate(0 185.82 280.73)" />
<ellipse cx="173.32" cy="292.77" rx="2.95" ry="5.0" fill="#E1D0BD" transform="rotate(-35 173.32 292.77)" />
<ellipse cx="177.18" cy="305.27" rx="1.82" ry="1.82" fill="#E1D0BD" transform="rotate(0 177.18 305.27)" />
<ellipse cx="119.45" cy="326.91" rx="3.18" ry="2.27" fill="#E1D0BD" transform="rotate(0 119.45 326.91)" />
<ellipse cx="152.86" cy="321.45" rx="1.36" ry="1.36" fill="#E1D0BD" transform="rotate(0 152.86 321.45)" />
<ellipse cx="173.32" cy="332.82" rx="1.59" ry="1.59" fill="#E1D0BD" transform="rotate(0 173.32 332.82)" />
<ellipse cx="159.23" cy="342.82" rx="2.27" ry="1.82" fill="#E1D0BD" transform="rotate(0 159.23 342.82)" />
<ellipse cx="116.5" cy="348.05" rx="4.55" ry="9.09" fill="#E1D0BD" transform="rotate(-20 116.5 348.05)" />
<ellipse cx="143.77" cy="348.73" rx="4.09" ry="3.64" fill="#E1D0BD" transform="rotate(0 143.77 348.73)" />
<ellipse cx="172.18" cy="352.59" rx="2.05" ry="2.05" fill="#E1D0BD" transform="rotate(0 172.18 352.59)" />
<ellipse cx="155.14" cy="359.41" rx="3.41" ry="4.55" fill="#E1D0BD" transform="rotate(-30 155.14 359.41)" />
<ellipse cx="169.23" cy="361.68" rx="3.41" ry="2.95" fill="#E1D0BD" transform="rotate(0 169.23 361.68)" />
<ellipse cx="160.82" cy="369.64" rx="5.0" ry="4.09" fill="#E1D0BD" transform="rotate(40 160.82 369.64)" />
<ellipse cx="134.68" cy="375.32" rx="3.41" ry="2.27" fill="#E1D0BD" transform="rotate(0 134.68 375.32)" />
<ellipse cx="176.73" cy="307.14" rx="1.36" ry="1.36" fill="#E1D0BD" transform="rotate(0 176.73 307.14)" />
</g>
<rect x="108.5" y="228.9" width="90.0" height="166.2" fill="none" stroke="#2b2b2b" stroke-width="1.1"/>
<rect x="119.2" y="234.9" width="24.4" height="10.7" fill="#fff"/>
<text x="131.4" y="243.3" class="d" text-anchor="middle">-1 m</text>
<use href="#pt" x="155.8" y="287.4"/>
<text x="151.9" y="289.9" class="l" text-anchor="end">Control</text>
<use href="#pt" x="154.9" y="314.0"/>
<text x="151.0" y="316.5" class="l" text-anchor="end">Transition</text>
<use href="#pt" x="153.8" y="333.9"/>
<text x="149.9" y="336.4" class="l" text-anchor="end">Seep</text>
<text x="187.4" y="240.4" class="n" text-anchor="middle">N</text>
<use href="#north" x="187.1" y="241.4"/>
<path d="M155.1,382.0V387.1H179.4V382.0M167.2,384.3V387.1" fill="none" stroke="#222" stroke-width="0.8"/>
<text x="155.1" y="378.7" class="l" text-anchor="middle">0</text>
<text x="175.5" y="378.7" class="l">50 m</text>
<g clip-path="url(#c12)">
<rect x="212.4" y="228.9" width="89.2" height="166.7" fill="#D9B59C"/>
<path d="M212.5,230.3C216.4,215.5 232.3,228.0 235.7,230.3C239.1,232.5 233.8,239.4 233.0,243.9C232.2,248.5 231.1,252.6 230.7,257.5C230.3,262.5 230.9,268.2 230.7,273.5C230.5,278.8 230.2,284.4 229.6,289.4C229.0,294.3 228.1,298.1 227.3,303.0C226.6,307.9 227.5,316.3 225.0,318.9C222.6,321.6 214.6,333.7 212.5,318.9C210.5,304.1 208.7,245.0 212.5,230.3Z" fill="#D09E84" />
<path d="M259.2,279.2C259.5,278.1 260.5,277.3 261.3,276.9C262.0,276.6 263.1,276.7 263.8,277.2C264.5,277.6 265.0,278.8 265.3,279.7C265.6,280.5 265.3,281.7 265.8,282.2C266.3,282.7 267.2,283.0 268.3,282.7C269.4,282.5 271.0,281.4 272.4,280.7C273.7,280.0 275.2,279.1 276.4,278.7C277.6,278.2 278.6,278.0 279.4,278.2C280.3,278.3 281.2,278.8 281.5,279.7C281.7,280.6 281.1,282.5 280.9,283.7C280.8,285.0 280.3,286.0 280.4,287.3C280.6,288.5 281.5,289.9 282.0,291.3C282.5,292.6 283.1,294.0 283.5,295.3C283.9,296.7 284.6,298.2 284.5,299.4C284.4,300.6 283.6,301.9 283.0,302.4C282.3,302.9 281.2,302.9 280.4,302.6C279.7,302.3 279.1,301.3 278.4,300.4C277.8,299.5 277.2,298.4 276.4,297.4C275.6,296.3 274.6,295.2 273.4,294.3C272.2,293.5 270.7,292.8 269.3,292.3C268.0,291.8 266.4,291.8 265.3,291.3C264.2,290.8 263.4,290.1 262.8,289.3C262.2,288.4 262.3,287.3 261.8,286.2C261.3,285.2 260.2,284.4 259.7,283.2C259.3,282.0 259.0,280.2 259.2,279.2Z" fill="#E1D0BD" />
<path d="M274.4,272.1C274.6,271.3 276.2,270.8 277.4,270.6C278.6,270.4 280.3,270.6 281.5,270.9C282.6,271.1 283.8,271.6 284.5,272.1C285.2,272.6 285.7,273.5 285.5,274.1C285.3,274.7 284.3,275.5 283.5,275.6C282.6,275.8 281.3,275.0 280.4,275.1C279.6,275.3 279.2,276.6 278.4,276.6C277.7,276.7 276.6,276.4 275.9,275.6C275.2,274.9 274.1,272.9 274.4,272.1Z" fill="#E1D0BD" />
<path d="M284.5,281.2C284.7,279.9 286.0,277.7 286.5,276.1C287.0,274.6 286.8,273.3 287.5,272.1C288.2,270.9 289.1,269.9 290.5,269.1C292.0,268.2 294.3,267.5 296.0,267.1C297.7,266.6 299.9,263.4 300.6,266.5C301.4,269.7 301.4,282.6 300.6,285.7C299.9,288.9 297.3,285.2 296.0,285.2C294.7,285.2 293.8,285.7 292.6,285.7C291.3,285.7 289.7,285.6 288.5,285.2C287.3,284.9 286.2,284.4 285.5,283.7C284.8,283.0 284.3,282.5 284.5,281.2Z" fill="#E1D0BD" />
<path d="M230.7,322.7C231.6,321.8 234.7,320.5 236.7,319.7C238.7,318.9 241.0,317.7 242.8,318.2C244.6,318.7 245.6,321.5 247.3,322.7C249.1,324.0 251.4,324.9 253.4,325.8C255.4,326.6 257.7,327.3 259.5,328.0C261.2,328.8 262.5,329.2 264.0,330.3C265.5,331.4 267.0,333.6 268.5,334.8C270.1,336.1 271.6,336.9 273.1,337.9C274.6,338.9 276.1,339.9 277.6,340.9C279.2,341.9 280.7,342.7 282.2,343.9C283.7,345.2 285.5,346.7 286.7,348.5C288.0,350.3 288.7,352.6 289.8,354.5C290.8,356.5 290.3,359.0 292.8,360.0C295.3,361.0 302.9,353.4 304.9,360.6C306.9,367.8 308.0,396.0 304.9,403.0C301.8,410.1 289.5,404.7 286.4,403.0C283.4,401.4 286.4,397.1 286.7,393.0C287.1,389.0 288.0,383.3 288.5,378.8C289.1,374.3 290.2,369.5 290.1,366.2C289.9,362.9 288.3,361.4 287.5,359.1C286.6,356.8 285.8,353.8 284.9,352.3C284.0,350.8 283.4,350.9 282.2,350.0C281.0,349.1 279.4,348.2 277.6,347.0C275.9,345.7 273.6,343.8 271.6,342.4C269.6,341.0 267.5,339.8 265.5,338.6C263.5,337.5 261.5,336.6 259.5,335.6C257.4,334.6 255.4,333.6 253.4,332.6C251.4,331.6 249.4,330.3 247.3,329.5C245.3,328.8 243.3,328.4 241.3,328.0C239.3,327.7 236.9,327.8 235.2,327.3C233.6,326.8 232.2,325.8 231.4,325.0C230.7,324.2 229.8,323.6 230.7,322.7Z" fill="#D3A187" />
<path d="M273.1,322.7C273.7,321.5 275.9,319.7 277.6,318.2C279.4,316.7 281.7,315.2 283.7,313.6C285.7,312.1 288.2,310.6 289.8,309.1C291.3,307.6 292.0,306.1 292.8,304.5C293.5,303.0 293.9,301.8 294.3,300.0C294.7,298.2 293.3,294.9 295.1,293.9C296.8,292.9 303.3,276.8 304.9,293.9C306.6,311.1 305.9,379.8 304.9,397.0C303.9,414.1 300.2,400.5 298.8,397.0C297.5,393.4 297.1,381.9 296.6,375.8C296.1,369.6 296.4,364.0 295.8,360.0C295.2,356.0 293.8,354.2 292.8,351.5C291.8,348.8 290.8,346.2 289.8,343.9C288.7,341.7 288.0,339.6 286.7,337.9C285.5,336.1 283.7,334.8 282.2,333.3C280.7,331.8 279.0,330.1 277.6,328.8C276.2,327.5 274.6,326.8 273.8,325.8C273.1,324.7 272.5,324.0 273.1,322.7Z" fill="#D39C82" />
<path d="M289.8,325.8C290.6,324.0 291.8,323.5 294.3,322.7C296.8,322.0 303.1,315.9 304.9,321.2C306.7,326.5 306.0,349.5 304.9,354.5C303.8,359.6 299.9,352.3 298.1,351.5C296.3,350.8 295.4,351.5 294.3,350.0C293.2,348.5 292.2,345.2 291.3,342.4C290.4,339.6 289.3,336.1 289.0,333.3C288.7,330.6 288.9,327.5 289.8,325.8Z" fill="#CE886D" />
<path d="M295.1,328.0C295.4,325.5 296.4,326.3 298.1,325.8C299.7,325.3 303.8,321.5 304.9,325.0C306.0,328.5 306.0,343.6 304.9,347.0C303.8,350.4 299.5,346.5 298.1,345.5C296.7,344.4 296.8,343.8 296.3,340.9C295.8,338.0 294.8,330.6 295.1,328.0Z" fill="#C9775C" />
<path d="M212.6,382.9L214.5,382.9L220.5,388.4L222.9,390.2L227.8,392.0L231.4,392.9L231.4,397.5L212.6,397.5Z" fill="#CF9F85" />
<ellipse cx="276.18" cy="245.73" rx="2.95" ry="2.27" fill="#E1D0BD" transform="rotate(0 276.18 245.73)" />
<ellipse cx="247.77" cy="258.68" rx="1.82" ry="1.82" fill="#E1D0BD" transform="rotate(0 247.77 258.68)" />
<ellipse cx="269.36" cy="262.09" rx="2.27" ry="1.82" fill="#E1D0BD" transform="rotate(0 269.36 262.09)" />
<ellipse cx="261.41" cy="232.09" rx="1.36" ry="0.91" fill="#E1D0BD" transform="rotate(0 261.41 232.09)" />
<ellipse cx="220.5" cy="354.86" rx="5.0" ry="2.27" fill="#E1D0BD" transform="rotate(30 220.5 354.86)" />
<ellipse cx="258.0" cy="359.41" rx="1.82" ry="1.82" fill="#E1D0BD" transform="rotate(0 258.0 359.41)" />
<ellipse cx="273.23" cy="362.82" rx="2.5" ry="2.05" fill="#E1D0BD" transform="rotate(0 273.23 362.82)" />
<ellipse cx="263.68" cy="371.91" rx="5.0" ry="2.95" fill="#E1D0BD" transform="rotate(20 263.68 371.91)" />
<ellipse cx="239.14" cy="376.45" rx="2.73" ry="2.27" fill="#E1D0BD" transform="rotate(0 239.14 376.45)" />
<ellipse cx="262.55" cy="391.91" rx="1.82" ry="1.14" fill="#E1D0BD" transform="rotate(0 262.55 391.91)" />
</g>
<rect x="212.0" y="228.9" width="90.2" height="166.2" fill="none" stroke="#2b2b2b" stroke-width="1.1"/>
<rect x="223.4" y="234.9" width="24.3" height="10.7" fill="#fff"/>
<text x="235.6" y="243.3" class="d" text-anchor="middle">-2 m</text>
<use href="#pt" x="259.4" y="287.4"/>
<text x="255.5" y="289.9" class="l" text-anchor="end">Control</text>
<use href="#pt" x="258.5" y="314.5"/>
<text x="254.6" y="317.0" class="l" text-anchor="end">Transition</text>
<use href="#pt" x="257.1" y="335.2"/>
<text x="253.2" y="337.7" class="l" text-anchor="end">Seep</text>
<text x="291.0" y="240.4" class="n" text-anchor="middle">N</text>
<use href="#north" x="290.7" y="241.4"/>
<path d="M259.3,382.0V387.1H283.6V382.0M271.4,384.3V387.1" fill="none" stroke="#222" stroke-width="0.8"/>
<text x="259.3" y="378.7" class="l" text-anchor="middle">0</text>
<text x="279.7" y="378.7" class="l">50 m</text>
<g clip-path="url(#c13)">
<rect x="317.1" y="228.9" width="88.9" height="166.7" fill="#D8B59B"/>
<path d="M316.5,230.3C326.8,214.7 368.7,228.0 378.4,230.3C388.0,232.5 375.7,239.4 374.5,243.9C373.3,248.5 372.6,252.2 371.1,257.5C369.6,262.8 367.3,270.0 365.4,275.7C363.5,281.4 361.4,286.7 359.7,291.6C358.0,296.6 357.5,300.9 355.2,305.3C352.9,309.7 348.7,315.0 346.1,318.0C343.4,321.0 344.2,322.5 339.3,323.5C334.3,324.4 320.3,339.0 316.5,323.5C312.8,307.9 306.2,245.8 316.5,230.3Z" fill="#D9B39A" />
<path d="M316.5,230.3C320.2,215.5 335.4,227.6 338.6,230.3C341.8,232.9 336.5,240.9 335.9,246.2C335.2,251.5 335.1,256.4 334.7,262.1C334.3,267.8 334.0,274.6 333.6,280.3C333.2,286.0 333.0,289.7 332.5,296.2C331.9,302.6 332.8,315.1 330.2,318.9C327.5,322.7 318.8,333.7 316.5,318.9C314.3,304.1 312.9,245.0 316.5,230.3Z" fill="#D09E84" />
<path d="M319.8,320.7C320.1,319.0 323.0,318.4 325.1,317.2C327.1,316.0 329.8,314.8 332.1,313.7C334.5,312.5 337.1,311.3 339.2,310.1C341.3,309.0 342.7,307.6 344.5,306.6C346.3,305.6 347.9,304.1 349.8,304.0C351.7,303.8 353.9,305.6 356.0,305.7C358.0,305.9 360.0,305.4 362.2,304.8C364.4,304.2 366.9,303.1 369.2,302.2C371.6,301.3 373.2,300.9 376.3,299.5C379.4,298.2 384.4,296.0 388.0,294.2C391.5,292.5 393.9,290.4 397.5,288.9C401.2,287.5 407.8,266.0 409.9,285.4C411.9,304.8 415.5,385.5 409.9,405.5C404.3,425.6 382.3,410.5 376.3,405.5C370.3,400.5 374.5,382.1 373.7,375.5C372.8,368.9 372.3,368.3 371.0,366.0C369.7,363.6 367.5,363.0 365.7,361.4C363.9,359.7 362.5,357.5 360.4,356.1C358.3,354.6 355.4,352.5 353.3,352.5C351.3,352.5 350.1,355.8 348.0,356.1C346.0,356.4 343.0,355.5 341.0,354.3C338.9,353.1 337.7,350.8 335.7,349.0C333.6,347.2 330.2,345.8 328.6,343.7C327.0,341.6 326.8,339.3 326.0,336.6C325.1,334.0 324.3,330.5 323.3,327.8C322.3,325.2 319.5,322.5 319.8,320.7Z" fill="#D7A78D" />
<path d="M377.1,310.6C375.8,313.0 376.5,315.0 376.2,317.7C375.9,320.4 375.3,323.6 375.3,326.5C375.3,329.5 375.9,332.4 376.2,335.4C376.5,338.3 376.5,341.3 377.1,344.2C377.7,347.2 378.7,350.1 379.7,353.1C380.8,356.0 381.9,359.1 383.3,361.9C384.6,364.8 387.0,363.9 387.7,370.1C388.4,376.3 383.0,394.3 387.7,399.1C392.4,404.0 411.3,418.0 416.0,399.1C420.7,380.2 417.8,304.4 416.0,285.8C414.2,267.3 408.3,286.6 405.4,287.6C402.4,288.6 400.7,290.6 398.3,292.0C396.0,293.5 393.6,294.5 391.2,296.5C388.9,298.4 386.5,301.2 384.2,303.5C381.8,305.9 378.4,308.3 377.1,310.6Z" fill="#D5987E" />
<path d="M380.6,328.3C380.9,326.1 380.8,324.0 381.5,322.1C382.2,320.2 383.7,318.4 385.0,316.8C386.4,315.2 387.8,313.7 389.5,312.4C391.1,311.1 393.2,309.9 394.8,308.8C396.4,307.8 397.4,307.0 399.2,306.2C401.0,305.4 402.6,304.6 405.4,303.9C408.2,303.2 414.2,285.9 416.0,301.8C417.8,317.6 419.6,382.9 416.0,399.1C412.5,415.3 398.3,404.0 394.8,399.1C391.2,394.3 395.4,375.7 394.8,370.1C394.2,364.5 392.6,367.4 391.2,365.5C389.9,363.5 388.1,360.8 386.8,358.4C385.5,356.0 384.2,353.7 383.3,351.3C382.3,349.0 381.6,346.9 381.0,344.2C380.4,341.6 379.8,338.1 379.7,335.4C379.7,332.7 380.3,330.5 380.6,328.3Z" fill="#D3876E" />
<path d="M387.7,323.0C388.3,321.1 389.2,319.9 390.4,318.6C391.5,317.3 393.3,316.1 394.8,315.0C396.3,314.0 397.4,313.1 399.2,312.4C401.0,311.7 402.6,311.1 405.4,310.6C408.2,310.2 414.2,301.2 416.0,309.7C417.8,318.3 417.8,353.4 416.0,361.9C414.2,370.5 407.6,361.4 405.4,361.1C403.2,360.8 403.6,360.6 402.7,360.2C401.9,359.7 401.1,359.3 400.1,358.4C399.1,357.5 397.7,356.2 396.5,354.9C395.4,353.5 394.0,352.2 393.0,350.4C392.0,348.7 391.2,346.5 390.4,344.2C389.5,342.0 388.3,339.5 387.7,337.2C387.1,334.8 386.8,332.4 386.8,330.1C386.8,327.7 387.1,324.9 387.7,323.0Z" fill="#CE6C54" />
<path d="M397.4,322.1C398.1,321.1 399.6,320.7 401.0,320.4C402.3,320.0 402.9,320.0 405.4,319.8C407.9,319.7 414.2,315.3 416.0,319.5C417.8,323.7 417.8,340.9 416.0,345.1C414.2,349.4 407.6,345.3 405.4,345.1C403.2,345.0 403.6,344.8 402.7,344.2C401.9,343.7 400.8,342.8 400.1,341.6C399.4,340.4 398.9,338.8 398.3,337.2C397.7,335.5 396.8,333.6 396.5,331.9C396.3,330.1 396.8,328.2 396.9,326.5C397.1,324.9 396.8,323.2 397.4,322.1Z" fill="#C6503A" />
<path d="M316.0,375.6C316.5,372.2 317.9,375.3 319.0,375.6C320.1,375.9 321.6,376.5 322.7,377.5C323.8,378.5 324.6,380.3 325.7,381.7C326.8,383.1 328.2,384.7 329.4,385.9C330.6,387.1 331.6,388.0 333.0,389.0C334.4,390.0 336.7,390.8 338.0,392.0C339.3,393.2 344.7,395.3 341.0,396.0C337.3,396.7 320.2,399.4 316.0,396.0C311.8,392.6 315.5,379.0 316.0,375.6Z" fill="#CF9F85" />
<ellipse cx="380.18" cy="245.73" rx="1.36" ry="1.36" fill="#E1D0BD" transform="rotate(0 380.18 245.73)" />
<ellipse cx="351.77" cy="258.0" rx="1.59" ry="1.59" fill="#E1D0BD" transform="rotate(0 351.77 258.0)" />
<ellipse cx="366.55" cy="232.55" rx="1.14" ry="0.91" fill="#E1D0BD" transform="rotate(0 366.55 232.55)" />
<ellipse cx="360.18" cy="321.45" rx="1.59" ry="1.59" fill="#E1D0BD" transform="rotate(0 360.18 321.45)" />
<ellipse cx="373.36" cy="328.27" rx="1.59" ry="1.59" fill="#E1D0BD" transform="rotate(0 373.36 328.27)" />
<ellipse cx="366.55" cy="344.64" rx="2.05" ry="2.05" fill="#E1D0BD" transform="rotate(0 366.55 344.64)" />
<ellipse cx="362.45" cy="360.55" rx="1.14" ry="1.14" fill="#E1D0BD" transform="rotate(0 362.45 360.55)" />
</g>
<rect x="315.6" y="228.9" width="89.9" height="166.2" fill="none" stroke="#2b2b2b" stroke-width="1.1"/>
<rect x="327.8" y="234.9" width="24.0" height="10.7" fill="#fff"/>
<text x="339.8" y="243.3" class="d" text-anchor="middle">-3 m</text>
<use href="#pt" x="363.8" y="287.0"/>
<text x="359.9" y="289.5" class="l" text-anchor="end">Control</text>
<use href="#pt" x="362.5" y="314.5"/>
<text x="358.6" y="317.0" class="l" text-anchor="end">Transition</text>
<use href="#pt" x="361.3" y="335.4"/>
<text x="357.4" y="337.9" class="l" text-anchor="end">Seep</text>
<text x="394.6" y="240.4" class="n" text-anchor="middle">N</text>
<use href="#north" x="394.3" y="241.4"/>
<path d="M362.4,382.0V387.1H386.7V382.0M374.5,384.3V387.1" fill="none" stroke="#222" stroke-width="0.8"/>
<text x="362.4" y="378.7" class="l" text-anchor="middle">0</text>
<text x="382.8" y="378.7" class="l">50 m</text>
<g clip-path="url(#c14)">
<rect x="420.1" y="228.9" width="89.8" height="166.7" fill="#D8B59B"/>
<path d="M420.5,230.3C429.1,219.3 463.5,228.0 471.7,230.3C479.8,232.5 470.2,239.4 469.4,243.9C468.7,248.5 467.9,253.0 467.1,257.5C466.4,262.1 465.6,266.3 464.9,271.2C464.1,276.1 463.5,282.9 462.6,287.1C461.6,291.3 466.2,294.7 459.2,296.2C452.2,297.7 427.0,307.2 420.5,296.2C414.1,285.2 412.0,241.3 420.5,230.3Z" fill="#D9B39A" />
<path d="M420.5,230.3C424.0,215.5 438.4,226.9 441.5,230.3C444.5,233.7 439.4,243.5 438.7,250.7C438.1,257.9 438.0,265.9 437.6,273.5C437.2,281.0 436.8,288.6 436.5,296.2C436.1,303.8 438.0,315.1 435.3,318.9C432.7,322.7 423.0,333.7 420.5,318.9C418.1,304.1 417.1,245.0 420.5,230.3Z" fill="#D09E84" />
<path d="M425.5,323.6C425.2,322.8 428.8,321.8 430.8,320.9C432.9,320.0 435.5,319.3 437.9,318.3C440.3,317.2 442.9,316.2 445.0,314.7C447.0,313.3 448.6,310.9 450.3,309.4C451.9,308.0 453.2,306.2 454.7,305.9C456.2,305.6 457.6,306.9 459.1,307.7C460.6,308.4 462.0,310.6 463.5,310.3C465.0,310.0 466.8,307.5 467.9,305.9C469.1,304.3 469.7,302.1 470.6,300.6C471.5,299.1 471.6,297.8 473.2,297.1C474.9,296.3 477.9,296.0 480.3,296.2C482.7,296.3 485.4,297.4 487.4,298.0C489.3,298.5 487.5,299.9 492.0,299.7C496.4,299.6 510.2,278.1 513.9,297.1C517.5,316.1 520.4,394.2 513.9,413.7C507.4,433.1 482.6,419.6 475.0,413.7C467.4,407.8 469.8,387.3 468.3,378.3C466.8,369.4 466.7,363.5 466.2,360.0C465.7,356.4 465.7,358.8 465.3,357.1C464.8,355.5 464.1,352.4 463.5,350.1C462.9,347.7 462.8,344.6 461.8,343.0C460.7,341.4 459.1,340.9 457.3,340.4C455.6,339.8 452.9,340.5 451.2,339.5C449.4,338.4 448.4,335.6 446.7,334.2C445.1,332.7 442.8,332.3 441.4,330.6C440.1,329.0 440.3,325.3 438.8,324.5C437.3,323.6 434.8,325.5 432.6,325.3C430.4,325.2 425.8,324.3 425.5,323.6Z" fill="#D7A78D" />
<path d="M472.0,343.5C471.5,341.2 473.3,344.6 473.2,343.0C473.1,341.4 472.1,337.1 471.5,334.2C470.9,331.2 469.9,328.3 469.7,325.3C469.6,322.4 470.0,319.4 470.6,316.5C471.2,313.6 472.4,310.2 473.2,307.7C474.1,305.2 474.7,303.1 475.9,301.5C477.1,299.9 478.4,298.4 480.3,298.0C482.2,297.5 485.4,298.4 487.4,298.8C489.3,299.3 487.9,300.7 492.0,300.6C496.1,300.5 508.7,281.4 512.0,298.0C515.3,314.6 516.0,383.0 512.0,400.0C508.0,417.0 491.9,402.7 488.2,400.0C484.4,397.3 489.7,388.3 489.5,383.8C489.3,379.3 488.2,376.0 486.8,373.1C485.4,370.2 483.2,369.1 481.4,366.4C479.6,363.7 477.6,360.8 476.0,357.0C474.4,353.2 472.5,345.9 472.0,343.5Z" fill="#D5987E" />
<path d="M486.8,373.1L489.5,383.8L488.2,399.9L510.9,399.9L510.9,373.1Z" fill="#D5987E" />
<path d="M484.2,318.0C485.1,316.7 487.0,315.5 488.7,314.4C490.4,313.2 492.3,312.3 494.4,311.0C496.5,309.6 498.4,308.0 501.2,306.4C504.1,304.8 509.8,288.2 511.5,301.2C513.2,314.2 512.4,371.1 511.5,384.4C510.5,397.7 507.7,381.9 505.8,381.0C503.9,380.1 502.2,380.2 500.1,378.7C498.0,377.2 495.4,374.4 493.3,371.9C491.2,369.4 489.5,366.8 487.6,364.0C485.7,361.1 483.5,357.7 481.9,354.9C480.3,352.0 478.8,349.8 477.8,346.9C476.9,344.1 475.9,340.8 476.2,337.8C476.5,334.8 478.5,331.4 479.6,328.7C480.8,326.1 482.3,323.7 483.0,321.9C483.8,320.1 483.2,319.3 484.2,318.0Z" fill="#D3876E" />
<path d="M492.2,370.4L496.2,383.8L494.9,399.9L510.9,399.9L510.9,370.4Z" fill="#D3876E" />
<path d="M496.7,318.0C498.2,316.5 498.8,315.2 501.2,313.2C503.7,311.3 509.8,296.1 511.5,306.4C513.2,316.8 512.4,364.4 511.5,375.3C510.5,386.2 507.7,373.2 505.8,371.9C503.9,370.6 502.0,369.4 500.1,367.4C498.2,365.3 496.1,362.2 494.4,359.4C492.7,356.6 491.1,353.5 489.9,350.3C488.6,347.1 487.3,343.7 486.9,340.1C486.5,336.5 486.7,331.7 487.6,328.7C488.5,325.8 490.6,324.2 492.1,322.4C493.7,320.6 495.2,319.5 496.7,318.0Z" fill="#CE6C54" />
<path d="M497.3,372.6L500.3,378.0L503.3,384.1L508.0,390.2L508.0,396.0L494.8,396.0L495.5,387.0L496.0,380.0Z" fill="#CE6C54" />
<path d="M494.4,331.0C495.5,328.7 497.2,327.6 500.1,326.5C502.9,325.3 509.6,318.3 511.5,324.2C513.3,330.1 512.4,356.0 511.5,361.7C510.5,367.4 507.5,359.4 505.8,358.3C504.1,357.1 502.7,356.6 501.2,354.9C499.7,353.2 498.0,350.5 496.7,348.0C495.4,345.6 493.7,342.9 493.3,340.1C492.9,337.2 493.3,333.3 494.4,331.0Z" fill="#C6503A" />
<path d="M419.0,375.6C419.5,372.0 421.0,375.5 422.1,375.6C423.3,375.8 424.9,375.9 426.1,376.5C427.3,377.1 428.0,378.2 429.1,379.3C430.2,380.4 431.5,381.8 432.8,382.9C434.1,384.0 435.5,384.9 437.0,385.9C438.5,386.9 440.3,387.8 442.0,389.0C443.7,390.2 445.7,391.7 447.0,393.0C448.3,394.3 454.7,396.3 450.0,397.0C445.3,397.7 424.2,400.6 419.0,397.0C413.8,393.4 418.5,379.2 419.0,375.6Z" fill="#CF9F85" />
<ellipse cx="484.64" cy="245.05" rx="1.14" ry="1.14" fill="#E1D0BD" transform="rotate(0 484.64 245.05)" />
<ellipse cx="455.09" cy="258.0" rx="1.59" ry="1.36" fill="#E1D0BD" transform="rotate(0 455.09 258.0)" />
<ellipse cx="468.27" cy="232.09" rx="1.14" ry="0.91" fill="#E1D0BD" transform="rotate(0 468.27 232.09)" />
<ellipse cx="483.05" cy="312.36" rx="3.18" ry="2.73" fill="#E1D0BD" transform="rotate(0 483.05 312.36)" />
<ellipse cx="476.91" cy="328.27" rx="1.59" ry="1.59" fill="#E1D0BD" transform="rotate(0 476.91 328.27)" />
<ellipse cx="462.59" cy="319.64" rx="1.82" ry="3.18" fill="#E1D0BD" transform="rotate(0 462.59 319.64)" />
</g>
<rect x="419.5" y="228.9" width="89.9" height="166.2" fill="none" stroke="#2b2b2b" stroke-width="1.1"/>
<rect x="426.4" y="234.9" width="35.7" height="10.7" fill="#fff"/>
<text x="444.3" y="243.3" class="d" text-anchor="middle">-3.5 m</text>
<use href="#pt" x="467.4" y="286.3"/>
<text x="463.5" y="288.8" class="l" text-anchor="end">Control</text>
<use href="#pt" x="466.2" y="314.4"/>
<text x="462.3" y="316.9" class="l" text-anchor="end">Transition</text>
<use href="#pt" x="465.1" y="335.4"/>
<text x="461.2" y="337.9" class="l" text-anchor="end">Seep</text>
<text x="498.2" y="240.4" class="n" text-anchor="middle">N</text>
<use href="#north" x="497.9" y="241.4"/>
<path d="M465.7,382.0V387.1H490.0V382.0M477.8,384.3V387.1" fill="none" stroke="#222" stroke-width="0.8"/>
<text x="465.7" y="378.7" class="l" text-anchor="middle">0</text>
<text x="486.1" y="378.7" class="l">50 m</text>
<rect x="525.30" y="134.6" width="22.60" height="10.7" fill="#3B9FD4"/>
<rect x="547.60" y="134.6" width="22.60" height="10.7" fill="#8BBCB8"/>
<rect x="569.90" y="134.6" width="22.60" height="10.7" fill="#BDD99A"/>
<rect x="592.20" y="134.6" width="22.60" height="10.7" fill="#EEF574"/>
<rect x="614.50" y="134.6" width="22.60" height="10.7" fill="#F7B955"/>
<rect x="636.80" y="134.6" width="22.60" height="10.7" fill="#F58634"/>
<rect x="659.10" y="134.6" width="22.60" height="10.7" fill="#EC2A22"/>
<text x="600.6" y="127.3" class="t" text-anchor="middle">pH value</text>
<text x="538.1" y="156.1" style="font-size:11.7px" text-anchor="end" transform="rotate(-45 538.1 156.1)">&lt;7.6</text>
<text x="560.4" y="156.1" style="font-size:11.7px" text-anchor="end" transform="rotate(-45 560.4 156.1)">7.6 - 7.7</text>
<text x="582.7" y="156.1" style="font-size:11.7px" text-anchor="end" transform="rotate(-45 582.7 156.1)">7.7 - 7.8</text>
<text x="605.0" y="156.1" style="font-size:11.7px" text-anchor="end" transform="rotate(-45 605.0 156.1)">7.8 - 7.9</text>
<text x="627.3" y="156.1" style="font-size:11.7px" text-anchor="end" transform="rotate(-45 627.3 156.1)">7.9 - 8.0</text>
<text x="649.6" y="156.1" style="font-size:11.7px" text-anchor="end" transform="rotate(-45 649.6 156.1)">8.0 - 8.1</text>
<text x="671.9" y="156.1" style="font-size:11.7px" text-anchor="end" transform="rotate(-45 671.9 156.1)">8.1 - 8.2</text>
<rect x="525.15" y="336.9" width="20.25" height="9.5" fill="#FDE6D0"/>
<rect x="545.10" y="336.9" width="20.25" height="9.5" fill="#F7CDB0"/>
<rect x="565.05" y="336.9" width="20.25" height="9.5" fill="#F0B090"/>
<rect x="585.00" y="336.9" width="20.25" height="9.5" fill="#E89070"/>
<rect x="604.95" y="336.9" width="20.25" height="9.5" fill="#E07050"/>
<rect x="624.90" y="336.9" width="20.25" height="9.5" fill="#D94E3A"/>
<rect x="644.85" y="336.9" width="20.25" height="9.5" fill="#CF2C24"/>
<rect x="664.80" y="336.9" width="20.25" height="9.5" fill="#C00A12"/>
<text x="601.2" y="330.3" class="t" text-anchor="middle">pH standard error</text>
<text x="537.6" y="356.4" style="font-size:10.8px" text-anchor="end" transform="rotate(-45 537.6 356.4)">&lt; 0.01</text>
<text x="557.5" y="356.4" style="font-size:10.8px" text-anchor="end" transform="rotate(-45 557.5 356.4)">0.01 - 0.05</text>
<text x="577.5" y="356.4" style="font-size:10.8px" text-anchor="end" transform="rotate(-45 577.5 356.4)">0.05 - 0.1</text>
<text x="597.4" y="356.4" style="font-size:10.8px" text-anchor="end" transform="rotate(-45 597.4 356.4)">0.1 - 0.15</text>
<text x="617.4" y="356.4" style="font-size:10.8px" text-anchor="end" transform="rotate(-45 617.4 356.4)">0.15 - 0.2</text>
<text x="637.3" y="356.4" style="font-size:10.8px" text-anchor="end" transform="rotate(-45 637.3 356.4)">0.2 - 0.3</text>
<text x="657.3" y="356.4" style="font-size:10.8px" text-anchor="end" transform="rotate(-45 657.3 356.4)">0.3 - 0.5</text>
<text x="677.2" y="356.4" style="font-size:10.8px" text-anchor="end" transform="rotate(-45 677.2 356.4)">0.5 - 0.9</text>
</svg>
</body></html>
